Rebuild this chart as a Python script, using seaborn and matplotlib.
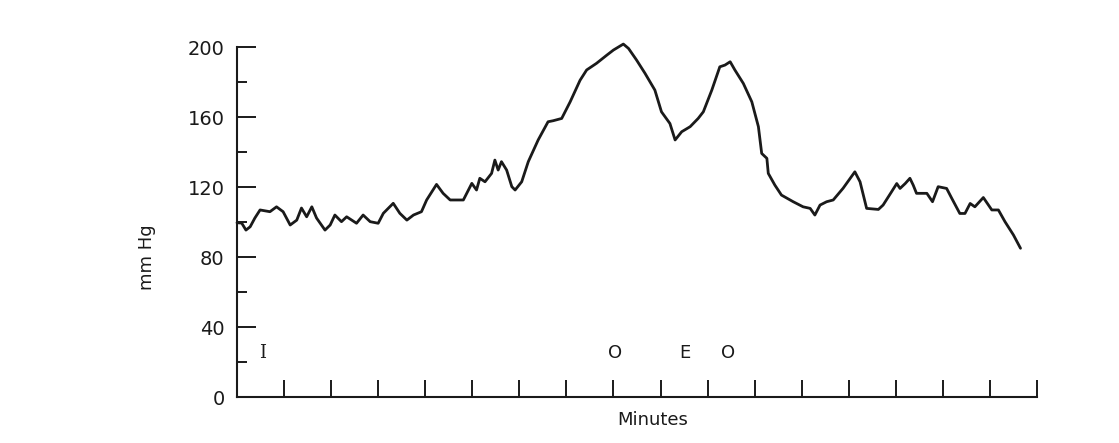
import numpy as np
import pandas as pd
import matplotlib
matplotlib.use("Agg")
import matplotlib.pyplot as plt
from matplotlib.ticker import MultipleLocator
import seaborn as sns

# blood pressure trace
minutes = [0.00, 0.10, 0.19, 0.28, 0.38, 0.49, 0.70, 0.84, 0.98, 1.13,
           1.27, 1.37, 1.48, 1.59, 1.69, 1.87, 1.98, 2.08, 2.22, 2.33,
           2.54, 2.68, 2.83, 3.00, 3.11, 3.32, 3.46, 3.61, 3.75, 3.92,
           4.03, 4.24, 4.38, 4.53, 4.81, 4.99, 5.09, 5.16, 5.27, 5.41,
           5.48, 5.55, 5.62, 5.73, 5.84, 5.91, 6.05, 6.19, 6.40, 6.61,
           6.72, 6.90, 7.08, 7.29, 7.43, 7.64, 7.86, 8.00, 8.21, 8.32,
           8.49, 8.67, 8.88, 9.02, 9.20, 9.31, 9.45, 9.63, 9.80, 9.91,
           10.09, 10.26, 10.37, 10.48, 10.58, 10.76, 10.94, 11.08, 11.15, 11.26,
           11.29, 11.43, 11.57, 11.82, 12.03, 12.18, 12.28, 12.39, 12.53, 12.67,
           12.88, 13.13, 13.24, 13.38, 13.63, 13.73, 13.91, 14.02, 14.09, 14.20,
           14.30, 14.37, 14.44, 14.66, 14.78, 14.90, 15.08, 15.19, 15.36, 15.47,
           15.58, 15.68, 15.86, 16.04, 16.18, 16.32, 16.50, 16.65]
pressure = [99.6, 99.4, 95.4, 97.3, 102.3, 106.9, 105.9, 108.7, 105.9, 98.3,
            101.1, 108.0, 103.0, 108.7, 102.3, 95.4, 98.3, 104.0, 100.2, 103.0,
            99.3, 104.0, 100.2, 99.3, 105.0, 110.7, 105.0, 101.1, 104.0, 105.9,
            112.6, 121.5, 116.4, 112.6, 112.6, 122.1, 118.3, 125.0, 123.0, 127.8,
            135.4, 129.7, 134.5, 129.7, 120.2, 118.3, 123.0, 134.5, 146.9, 157.3,
            157.9, 159.2, 168.7, 181.0, 186.9, 190.7, 195.4, 198.3, 201.7, 199.2,
            192.6, 185.0, 175.4, 163.0, 156.3, 146.9, 151.6, 154.5, 159.2, 163.0,
            175.4, 188.7, 189.7, 191.6, 186.9, 179.2, 168.7, 154.5, 139.2, 136.4,
            127.8, 121.1, 115.4, 111.6, 108.7, 107.8, 104.0, 109.7, 111.6, 112.6,
            119.3, 128.7, 123.0, 107.8, 107.2, 109.7, 117.3, 122.0, 119.2, 122.0,
            125.0, 121.1, 116.4, 116.4, 111.6, 120.2, 119.2, 113.5, 104.9, 104.9,
            110.6, 108.7, 114.0, 106.9, 106.9, 100.2, 92.6, 85.0]

# event marks along the bottom of the trace
event_labels = ["I", "O", "E", "O"]
event_minutes = [0.55, 8.03, 9.52, 10.43]

df = pd.DataFrame({"Minutes": minutes, "mm Hg": pressure})

sns.set_theme(style="ticks")
plt.rcParams["font.family"] = ["DejaVu Sans"]

ink = "#1a1a1a"
fig = plt.figure(figsize=(11.19, 4.43), dpi=100)
fig.patch.set_facecolor("white")
ax = fig.add_axes([0.2118, 0.1038, 0.7149, 0.790])
ax.set_facecolor("white")

sns.lineplot(data=df, x="Minutes", y="mm Hg", ax=ax, color=ink, linewidth=2.0)
for ln in ax.get_lines():
    ln.set_clip_on(False)

ax.set_xlim(0, 17)
ax.set_ylim(0, 200)
sns.despine(ax=ax)
for side in ["left", "bottom"]:
    ax.spines[side].set_linewidth(1.5)
    ax.spines[side].set_color(ink)

ax.set_yticks([0, 40, 80, 120, 160, 200])
ax.yaxis.set_minor_locator(MultipleLocator(20))
ax.set_xticks(np.arange(1, 18))
ax.set_xticklabels([])
ax.tick_params(axis="y", which="major", direction="in", length=14, width=1.4,
               color=ink, labelsize=14, labelcolor=ink, pad=9)
ax.tick_params(axis="y", which="minor", direction="in", length=7, width=1.4, color=ink)
ax.tick_params(axis="x", which="major", direction="in", length=12, width=1.4, color=ink)

ax.set_xlabel("Minutes", fontsize=13, color=ink)
ax.set_ylabel("mm Hg", fontsize=13, color=ink)
ax.xaxis.set_label_coords(0.52, -0.04)
ax.yaxis.set_label_coords(-0.101, 0.40)

for lab, m in zip(event_labels, event_minutes):
    fam = ["DejaVu Serif"] if lab == "I" else ["DejaVu Sans"]
    ax.text(m, 25, lab, ha="center", va="center", fontsize=13, color=ink, family=fam)

fig.savefig("out.png", dpi=100, facecolor="white")
